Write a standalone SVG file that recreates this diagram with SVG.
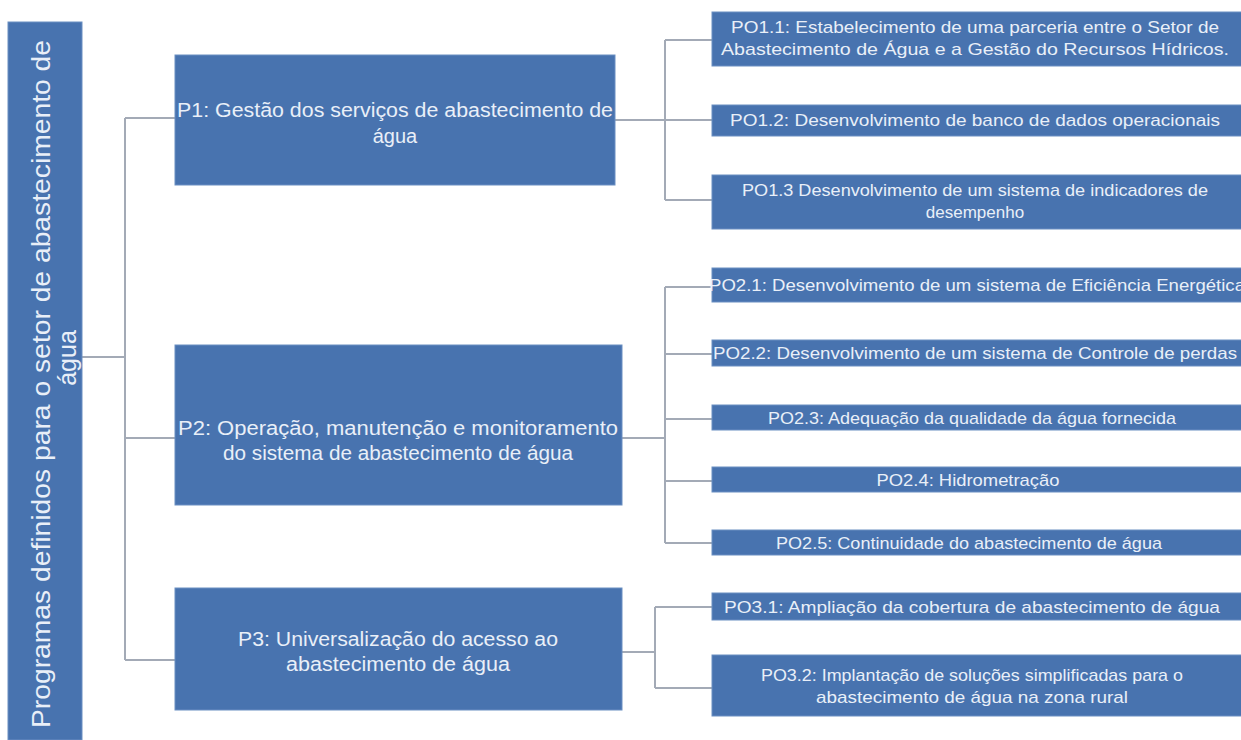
<svg xmlns="http://www.w3.org/2000/svg" width="1241" height="740" viewBox="0 0 1241 740">
<style>
.box{fill:#4873AF;stroke:#6a8fc2;stroke-width:1}
.t{font-family:"Liberation Sans",Arial,sans-serif;fill:#e9eff8;text-anchor:middle}
.p{font-size:20px}
.s{font-size:17px}
.l{font-size:25px}
.c{fill:none;stroke:#a3aab6;stroke-width:2}
</style>
<rect width="1241" height="740" fill="#ffffff"/>
<g id="connectors">
<path class="c" d="M82 357 H125 M125 118 V660 M125 118 H175 M125 438 H175 M125 660 H175"/>
<path class="c" d="M615 120 H665 M665 40 V200 M665 40 H712 M665 120 H712 M665 200 H712"/>
<path class="c" d="M622 438 H665 M665 287 V543 M665 287 H712 M665 354 H712 M665 419 H712 M665 481 H712 M665 543 H712"/>
<path class="c" d="M622 652 H655 M655 607 V688 M655 607 H712 M655 688 H712"/>
</g>
<g id="root">
<rect class="box" x="8" y="22" width="74" height="718"/>
<text class="t l" transform="translate(50,384) rotate(-90)" textLength="688" lengthAdjust="spacingAndGlyphs">Programas definidos para o setor de abastecimento de</text>
<text class="t l" transform="translate(76,358) rotate(-90)">água</text>
</g>
<g id="P1">
<rect class="box" x="175" y="55" width="440" height="130"/>
<text class="t p" x="395" y="117" textLength="436" lengthAdjust="spacingAndGlyphs">P1: Gestão dos serviços de abastecimento de</text>
<text class="t p" x="395" y="143">água</text>
</g>
<g id="P2">
<rect class="box" x="175" y="345" width="447" height="160"/>
<text class="t p" x="398" y="435" textLength="440" lengthAdjust="spacingAndGlyphs">P2: Operação, manutenção e monitoramento</text>
<text class="t p" x="398" y="460" textLength="350" lengthAdjust="spacingAndGlyphs">do sistema de abastecimento de água</text>
</g>
<g id="P3">
<rect class="box" x="175" y="588" width="447" height="122"/>
<text class="t p" x="398" y="646" textLength="320" lengthAdjust="spacingAndGlyphs">P3: Universalização do acesso ao</text>
<text class="t p" x="398" y="671" textLength="224" lengthAdjust="spacingAndGlyphs">abastecimento de água</text>
</g>
<g id="PO1.1">
<rect class="box" x="712" y="12" width="535" height="54"/>
<text class="t s" x="975" y="33" textLength="488" lengthAdjust="spacingAndGlyphs">PO1.1: Estabelecimento de uma parceria entre o Setor de</text>
<text class="t s" x="975" y="55" textLength="508" lengthAdjust="spacingAndGlyphs">Abastecimento de Água e a Gestão do Recursos Hídricos.</text>
</g>
<g id="PO1.2">
<rect class="box" x="712" y="105" width="535" height="31"/>
<text class="t s" x="975" y="126" textLength="490" lengthAdjust="spacingAndGlyphs">PO1.2: Desenvolvimento de banco de dados operacionais</text>
</g>
<g id="PO1.3">
<rect class="box" x="712" y="175" width="535" height="54"/>
<text class="t s" x="975" y="196" textLength="466" lengthAdjust="spacingAndGlyphs">PO1.3 Desenvolvimento de um sistema de indicadores de</text>
<text class="t s" x="975" y="218">desempenho</text>
</g>
<g id="PO2.1">
<rect class="box" x="712" y="268" width="535" height="34"/>
<text class="t s" x="977" y="291" textLength="536" lengthAdjust="spacingAndGlyphs">PO2.1: Desenvolvimento de um sistema de Eficiência Energética</text>
</g>
<g id="PO2.2">
<rect class="box" x="712" y="340" width="535" height="26"/>
<text class="t s" x="975" y="359" textLength="524" lengthAdjust="spacingAndGlyphs">PO2.2: Desenvolvimento de um sistema de Controle de perdas</text>
</g>
<g id="PO2.3">
<rect class="box" x="712" y="405" width="535" height="25"/>
<text class="t s" x="972" y="424" textLength="408" lengthAdjust="spacingAndGlyphs">PO2.3: Adequação da qualidade da água fornecida</text>
</g>
<g id="PO2.4">
<rect class="box" x="712" y="467" width="535" height="25"/>
<text class="t s" x="968" y="486" textLength="183" lengthAdjust="spacingAndGlyphs">PO2.4: Hidrometração</text>
</g>
<g id="PO2.5">
<rect class="box" x="712" y="530" width="535" height="25"/>
<text class="t s" x="969" y="549" textLength="386" lengthAdjust="spacingAndGlyphs">PO2.5: Continuidade do abastecimento de água</text>
</g>
<g id="PO3.1">
<rect class="box" x="712" y="593" width="535" height="27"/>
<text class="t s" x="972" y="613" textLength="496" lengthAdjust="spacingAndGlyphs">PO3.1: Ampliação da cobertura de abastecimento de água</text>
</g>
<g id="PO3.2">
<rect class="box" x="712" y="655" width="535" height="61"/>
<text class="t s" x="972" y="681" textLength="422" lengthAdjust="spacingAndGlyphs">PO3.2: Implantação de soluções  simplificadas para o</text>
<text class="t s" x="972" y="703" textLength="312" lengthAdjust="spacingAndGlyphs">abastecimento de água na zona rural</text>
</g>
</svg>
